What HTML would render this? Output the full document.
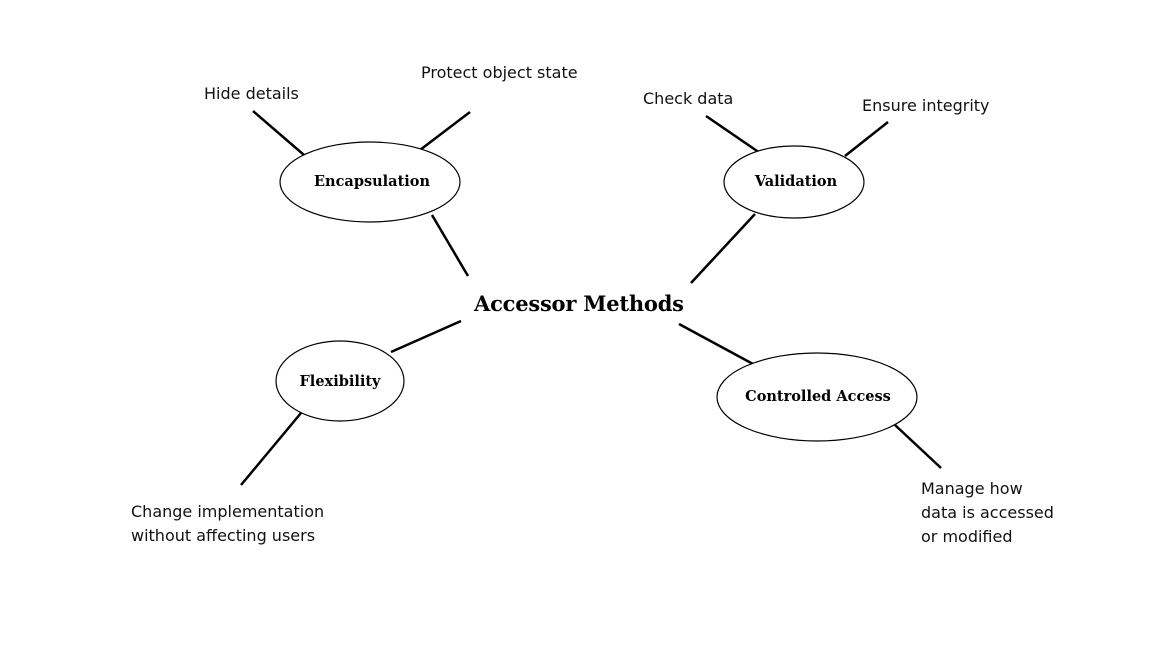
<!DOCTYPE html>
<html><head><meta charset="utf-8"><style>
html,body{margin:0;padding:0;background:#fff;}
svg{display:block;}
.s{font-family:"DejaVu Sans","Liberation Sans",sans-serif;font-size:16px;fill:#111;}
.b{font-family:"DejaVu Serif","Liberation Serif",serif;font-weight:bold;font-size:14.5px;fill:#000;}
</style></head><body>
<svg width="1152" height="648" viewBox="0 0 1152 648" xmlns="http://www.w3.org/2000/svg">
<g stroke="#000" stroke-width="2.5" fill="none">
<line x1="253" y1="111" x2="304" y2="155"/>
<line x1="470" y1="112" x2="420" y2="150"/>
<line x1="432" y1="215" x2="468" y2="276"/>
<line x1="706" y1="116" x2="760" y2="153"/>
<line x1="888" y1="122" x2="845" y2="156"/>
<line x1="755" y1="214" x2="691" y2="283"/>
<line x1="461" y1="321" x2="391" y2="352"/>
<line x1="679" y1="324" x2="753" y2="364"/>
<line x1="301" y1="413" x2="241" y2="485"/>
<line x1="895" y1="425" x2="941" y2="468"/>
</g>
<g stroke="#000" stroke-width="1.2" fill="#fff">
<ellipse cx="370" cy="182" rx="90" ry="40"/>
<ellipse cx="794" cy="182" rx="70" ry="36"/>
<ellipse cx="340" cy="381" rx="64" ry="40"/>
<ellipse cx="817" cy="397" rx="100" ry="44"/>
</g>
<text class="b" x="372" y="186" text-anchor="middle">Encapsulation</text>
<text class="b" x="796" y="186" text-anchor="middle">Validation</text>
<text class="b" x="340" y="386" text-anchor="middle">Flexibility</text>
<text class="b" x="818" y="401" text-anchor="middle">Controlled Access</text>
<text x="579" y="311" text-anchor="middle" textLength="210" style="font-family:'DejaVu Serif','Liberation Serif',serif;font-weight:bold;font-size:21px;">Accessor Methods</text>
<text class="s" x="204" y="99">Hide details</text>
<text class="s" x="421" y="78">Protect object state</text>
<text class="s" x="643" y="104">Check data</text>
<text class="s" x="862" y="111">Ensure integrity</text>
<text class="s" x="131" y="517">Change implementation</text>
<text class="s" x="131" y="541">without affecting users</text>
<text class="s" x="921" y="494">Manage how</text>
<text class="s" x="921" y="518">data is accessed</text>
<text class="s" x="921" y="542">or modified</text>
</svg>
</body></html>
